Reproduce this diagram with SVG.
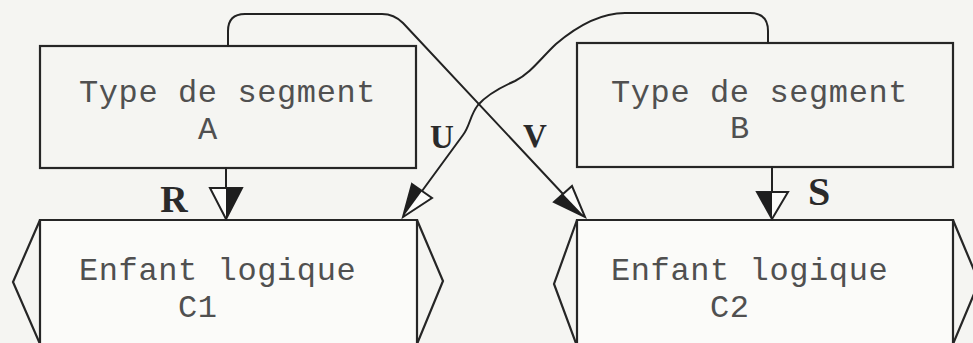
<svg xmlns="http://www.w3.org/2000/svg" width="973" height="343" viewBox="0 0 973 343">
  <style>
    .box { fill: none; stroke: #262626; stroke-width: 2.2; stroke-linejoin: miter; }
    .txt { font-family: "Liberation Mono", "DejaVu Sans Mono", monospace; font-size: 32px; fill: #505050; letter-spacing: 0.6px; }
    .lbl { font-family: "Liberation Serif", "DejaVu Serif", serif; font-weight: bold; fill: #2a2a2a; text-anchor: middle; }
    .wire { fill: none; stroke: #222; stroke-width: 2; stroke-linejoin: round; stroke-linecap: round; }
    .head { fill: #fbfbf9; stroke: #222; stroke-width: 2; stroke-linejoin: miter; }
    .half { fill: #1e1e1e; stroke: none; }
  </style>

  <rect x="0" y="0" width="973" height="343" fill="#f5f5f2"/>

  <!-- Segment type A -->
  <g id="segA">
    <rect class="box" x="40" y="46" width="376" height="122" fill="#fbfbf9"/>
    <text class="txt" x="79" y="102">Type de segment</text>
    <text class="txt" x="198" y="139">A</text>
  </g>

  <!-- Segment type B -->
  <g id="segB">
    <rect class="box" x="577" y="43" width="376" height="124" fill="#fbfbf9"/>
    <text class="txt" x="611" y="102">Type de segment</text>
    <text class="txt" x="730" y="138">B</text>
  </g>

  <!-- Logical child C1 -->
  <g id="childC1">
    <rect x="40" y="220" width="377" height="130" fill="#fbfbf9"/>
    <path class="box" d="M40,350 V220 H417 V350"/>
    <path class="box" d="M40,220 L13,282 L40,344"/>
    <path class="box" d="M417,220 L443,281 L417,344"/>
    <text class="txt" x="79" y="280">Enfant logique</text>
    <text class="txt" x="178" y="317">C1</text>
  </g>

  <!-- Logical child C2 -->
  <g id="childC2">
    <rect x="577" y="220" width="376" height="130" fill="#fbfbf9"/>
    <path class="box" d="M577,350 V220 H953 V350"/>
    <path class="box" d="M577,220 L554,284 L577,346"/>
    <path class="box" d="M953,220 L979,282 L953,344"/>
    <text class="txt" x="611" y="280">Enfant logique</text>
    <text class="txt" x="710" y="317">C2</text>
  </g>

  <!-- Connectors -->
  <g id="connectors">
    <!-- R : A -> C1 -->
    <line class="wire" x1="226" y1="168" x2="226" y2="190"/>
    <polygon class="head" points="210,188 242,188 226,219"/>
    <polygon class="half" points="226,188 242,188 226,219"/>

    <!-- S : B -> C2 -->
    <line class="wire" x1="772" y1="167" x2="772" y2="193"/>
    <polygon class="head" points="757,192 788,192 772,219"/>
    <polygon class="half" points="757,192 772,192 772,219"/>

    <!-- V : A -> C2 -->
    <path class="wire" d="M228,46 V31 Q228,14 245,14 H382 Q394,14 403,23 L563,194"/>
    <polygon class="head" points="554,202 572,186 585,217"/>
    <polygon class="half" points="554,202 563,194 585,217"/>

    <!-- U : B -> C1 -->
    <path class="wire" d="M768,43 V31 Q768,13 750,13 H625 C600,13 576,27 556,44 C541,58 531,73 515,81 C499,88 486,96 478,105 C470,115 470,126 463,135 L422,191"/>
    <polygon class="head" points="412,184 432,198 403,217"/>
    <polygon class="half" points="412,184 422,191 403,217"/>

    <text class="lbl" x="174" y="212" font-size="38">R</text>
    <text class="lbl" x="819" y="205" font-size="40">S</text>
    <text class="lbl" x="442" y="148" font-size="33">U</text>
    <text class="lbl" x="535" y="147" font-size="33">V</text>
  </g>
</svg>
